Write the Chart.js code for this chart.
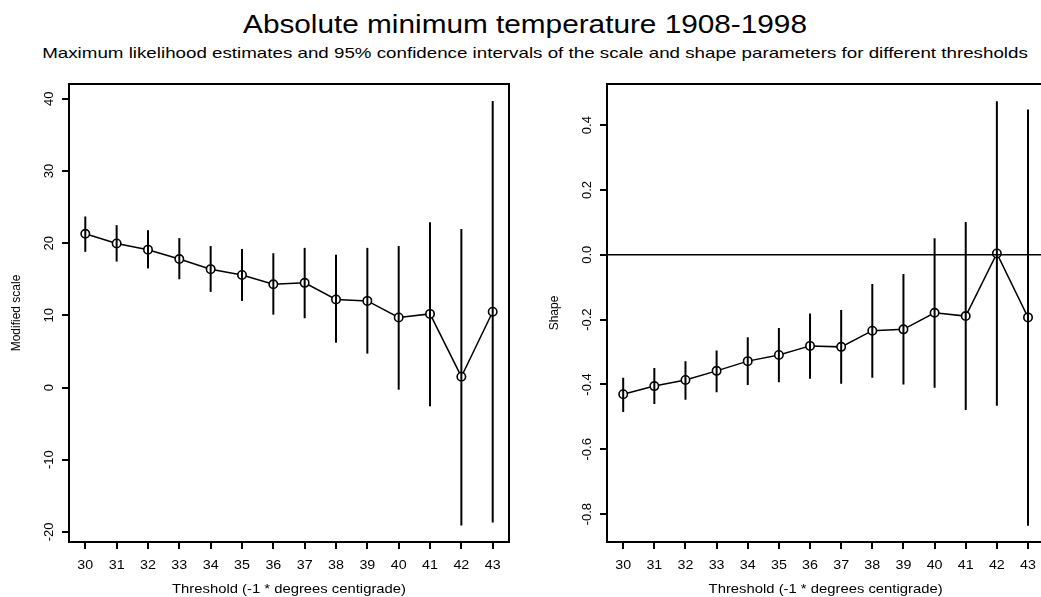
<!DOCTYPE html>
<html>
<head>
<meta charset="utf-8">
<script src="https://cdn.jsdelivr.net/npm/chart.js@4/dist/chart.umd.min.js"></script>
<style>
  body { margin: 0; width: 1041px; height: 597px; overflow: hidden; background: #fff; position: relative; font-family: "Liberation Sans", Arial, sans-serif; }
  canvas { position: absolute; top: 0; }
  .ttl { position: absolute; white-space: nowrap; color: #000; transform-origin: 50% 50%; }
</style>
</head>
<body>
<div class="ttl" style="left:525px; top:10px; font-size:25px; transform: translateX(-50%) scaleX(1.19);">Absolute minimum temperature 1908-1998</div>
<div class="ttl" style="left:535px; top:44px; font-size:15px; transform: translateX(-50%) scaleX(1.25);">Maximum likelihood estimates and 95% confidence intervals of the scale and shape parameters for different thresholds</div>
<canvas id="scaleChart" width="520" height="597" style="left:0"></canvas>
<canvas id="shapeChart" width="530" height="597" style="left:520px"></canvas>
<script>
// thresholds (-1 * degrees centigrade)
const thresholds = [30, 31, 32, 33, 34, 35, 36, 37, 38, 39, 40, 41, 42, 43];

// modified scale: estimate and 95% CI
const scaleEst = [21.3, 19.95, 19.1, 17.8, 16.4, 15.6, 14.3, 14.5, 12.2, 12.0, 9.7, 10.2, 1.5, 10.5];
const scaleLo = [18.8, 17.45, 16.5, 15.0, 13.25, 12.0, 10.1, 9.6, 6.2, 4.7, -0.3, -2.6, -19.1, -18.7];
const scaleHi = [23.7, 22.5, 21.8, 20.7, 19.6, 19.2, 18.6, 19.35, 18.4, 19.35, 19.6, 22.9, 21.95, 39.7];

// shape: estimate and 95% CI
const shapeEst = [-0.430, -0.405, -0.386, -0.358, -0.328, -0.309, -0.281, -0.284, -0.234, -0.230, -0.179, -0.189, 0.004, -0.193];
const shapeLo = [-0.485, -0.460, -0.447, -0.424, -0.402, -0.393, -0.382, -0.398, -0.379, -0.400, -0.410, -0.479, -0.466, -0.836];
const shapeHi = [-0.379, -0.349, -0.328, -0.295, -0.254, -0.226, -0.181, -0.170, -0.090, -0.059, 0.051, 0.101, 0.474, 0.448];

const scaleTicks = [-20, -10, 0, 10, 20, 30, 40];
const shapeTicks = [-0.8, -0.6, -0.4, -0.2, 0.0, 0.2, 0.4];

const FONT = '"Liberation Sans", Arial, sans-serif';

// text slightly stretched sideways, like the original device output
function wideText(ctx, text, x, y, sx) {
  ctx.save();
  ctx.translate(x, y);
  ctx.scale(sx, 1);
  ctx.fillText(text, 0, 0);
  ctx.restore();
}

function makeChart(canvas, opts) {
  const { est, lo, hi, yMin, yMax, yTicks, yLabel, yAxisWidth, padRight, zeroLine, yTitleX, tickFmt } = opts;

  const errorBars = {
    id: "errorBars",
    afterDatasetsDraw(chart) {
      const { ctx, chartArea } = chart;
      const xs = chart.scales.x, ys = chart.scales.y;
      ctx.save();
      ctx.beginPath();
      ctx.rect(chartArea.left, chartArea.top, chartArea.right - chartArea.left, chartArea.bottom - chartArea.top);
      ctx.clip();
      ctx.strokeStyle = "#000";
      ctx.lineWidth = 2;
      thresholds.forEach((t, i) => {
        const x = xs.getPixelForValue(t);
        ctx.beginPath();
        ctx.moveTo(x, ys.getPixelForValue(lo[i]));
        ctx.lineTo(x, ys.getPixelForValue(hi[i]));
        ctx.stroke();
      });
      if (zeroLine) {
        const y0 = ys.getPixelForValue(0);
        ctx.lineWidth = 1.5;
        ctx.beginPath();
        ctx.moveTo(chartArea.left, y0);
        ctx.lineTo(chartArea.right, y0);
        ctx.stroke();
      }
      ctx.restore();
    },
    afterDraw(chart) {
      const { ctx, chartArea } = chart;
      const xs = chart.scales.x, ys = chart.scales.y;
      ctx.save();
      // box
      ctx.strokeStyle = "#000";
      ctx.lineWidth = 2;
      ctx.strokeRect(chartArea.left, chartArea.top, chartArea.right - chartArea.left, chartArea.bottom - chartArea.top);
      ctx.fillStyle = "#000";
      ctx.textAlign = "center";
      // x tick labels
      ctx.font = "13px " + FONT;
      ctx.textBaseline = "alphabetic";
      thresholds.forEach(t => wideText(ctx, String(t), xs.getPixelForValue(t), 569, 1.1));
      // rotated y tick labels
      yTicks.forEach(v => {
        const y = ys.getPixelForValue(v);
        ctx.save();
        ctx.translate(chartArea.left - 16, y);
        ctx.rotate(-Math.PI / 2);
        ctx.fillText(tickFmt(v), 0, 0);
        ctx.restore();
      });
      // y title
      ctx.font = "12px " + FONT;
      ctx.textBaseline = "middle";
      ctx.save();
      ctx.translate(yTitleX, (chartArea.top + chartArea.bottom) / 2);
      ctx.rotate(-Math.PI / 2);
      ctx.fillText(yLabel, 0, 0);
      ctx.restore();
      // x title
      ctx.font = "13px " + FONT;
      wideText(ctx, "Threshold (-1 * degrees centigrade)", (chartArea.left + chartArea.right) / 2, 589, 1.14);
      ctx.restore();
    }
  };

  return new Chart(canvas.getContext("2d"), {
    type: "line",
    data: {
      datasets: [{
        data: thresholds.map((t, i) => ({ x: t, y: est[i] })),
        borderColor: "#000",
        borderWidth: 1.5,
        pointRadius: 4.2,
        pointBorderWidth: 1.6,
        pointBorderColor: "#000",
        pointBackgroundColor: "#fff",
        tension: 0,
      }],
    },
    options: {
      responsive: false,
      animation: false,
      devicePixelRatio: 1,
      layout: { padding: { top: 84, left: 0, right: padRight, bottom: 0 } },
      plugins: { legend: { display: false }, tooltip: { enabled: false }, title: { display: false } },
      scales: {
        x: {
          type: "linear",
          min: 29.48,
          max: 43.52,
          afterBuildTicks: s => { s.ticks = thresholds.map(v => ({ value: v })); },
          afterFit: s => { s.height = 55; },
          border: { display: false },
          grid: { drawOnChartArea: false, drawTicks: true, tickLength: 7, color: "#000", lineWidth: 2 },
          ticks: { display: false },
        },
        y: {
          min: yMin,
          max: yMax,
          afterBuildTicks: s => { s.ticks = yTicks.map(v => ({ value: v })); },
          afterFit: s => { s.width = yAxisWidth; },
          border: { display: false },
          grid: { drawOnChartArea: false, drawTicks: true, tickLength: 7, color: "#000", lineWidth: 2 },
          ticks: { display: false },
        },
      },
    },
    plugins: [errorBars],
  });
}

makeChart(document.getElementById("scaleChart"), {
  est: scaleEst, lo: scaleLo, hi: scaleHi,
  yMin: -21.4, yMax: 42.05, yTicks: scaleTicks,
  yLabel: "Modified scale", yAxisWidth: 69, padRight: 11,
  zeroLine: false, yTitleX: 17, tickFmt: v => String(v),
});

makeChart(document.getElementById("shapeChart"), {
  est: shapeEst, lo: shapeLo, hi: shapeHi,
  yMin: -0.886, yMax: 0.527, yTicks: shapeTicks,
  yLabel: "Shape", yAxisWidth: 87, padRight: 3,
  zeroLine: true, yTitleX: 35, tickFmt: v => v.toFixed(1),
});
</script>
</body>
</html>
